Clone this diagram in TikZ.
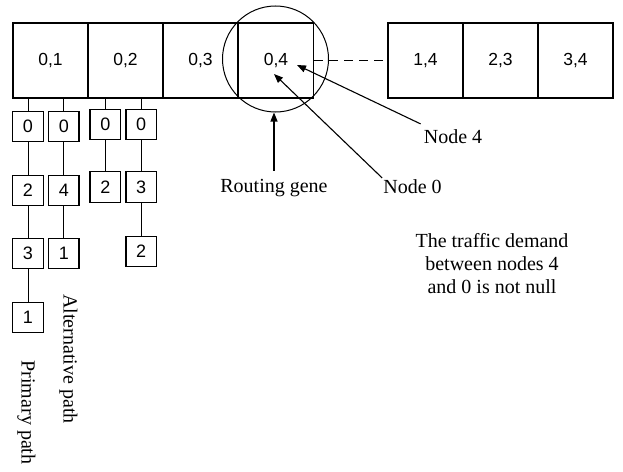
\documentclass[tikz,border=0pt]{standalone}
\usepackage{fontspec}
\setmainfont{Liberation Serif}
\setsansfont{Liberation Sans}
\usetikzlibrary{arrows.meta}
\begin{document}
\begin{tikzpicture}[x=1pt,y=-1pt,
  bigbox/.style={draw,line width=1.2pt,minimum width=75pt,minimum height=75pt,inner sep=0pt,
    font=\sffamily\fontsize{17.5}{20}\selectfont},
  smallbox/.style={draw,line width=1.2pt,minimum size=30.5pt,inner sep=0pt,
    font=\sffamily\fontsize{18}{20}\selectfont},
  lbl/.style={inner sep=0pt,font=\rmfamily\fontsize{20}{23}\selectfont},
  link/.style={line width=1pt},
  arr/.style={line width=1.1pt,-{Triangle[length=9pt,width=7pt]}}]
\useasboundingbox (0,0) rectangle (623,471);
% top genes
\node[bigbox] (b01) at (50.5,60.5) {0,1};
\node[bigbox] (b02) at (125.5,60.5) {0,2};
\node[bigbox] (b03) at (200.5,60.5) {0,3};
\node[bigbox] (b04) at (276,60.5) {0,4};
\node[bigbox] (b14) at (425.5,60.5) {1,4};
\node[bigbox] (b23) at (500.5,60.5) {2,3};
\node[bigbox] (b34) at (575.5,60.5) {3,4};
\draw[line width=1.2pt,dash pattern=on 9pt off 6pt] (b04.east) -- (b14.west);
% selection circle
\node[draw,circle,line width=1pt,minimum size=106pt,inner sep=0pt] (sel) at (275.5,59) {};
% path columns
\node[smallbox] (p1) at (28,126.5) {0};
\node[smallbox] (p2) at (28,190.5) {2};
\node[smallbox] (p3) at (28,253.5) {3};
\node[smallbox] (p4) at (28,317.5) {1};
\node[smallbox] (a1) at (63.8,126.5) {0};
\node[smallbox] (a2) at (63.8,190.5) {4};
\node[smallbox] (a3) at (63.8,253.5) {1};
\node[smallbox] (q1) at (105.3,124.5) {0};
\node[smallbox] (q2) at (105.3,187) {2};
\node[smallbox] (r1) at (141.2,124.5) {0};
\node[smallbox] (r2) at (141.2,187) {3};
\node[smallbox] (r3) at (141.2,251.5) {2};
\draw[link] (p1.north) -- (p1.north |- b01.south);
\draw[link] (a1.north) -- (a1.north |- b01.south);
\draw[link] (q1.north) -- (q1.north |- b02.south);
\draw[link] (r1.north) -- (r1.north |- b02.south);
\draw[link] (p1) -- (p2) -- (p3) -- (p4);
\draw[link] (a1) -- (a2) -- (a3);
\draw[link] (q1) -- (q2);
\draw[link] (r1) -- (r2) -- (r3);
% labels
\node[lbl,rotate=-90] (alt) at (68.5,359) {Alternative path};
\node[lbl,rotate=-90] (prim) at (26.4,412.5) {Primary path};
\node[lbl,anchor=base] (rg) at (274,192) {Routing gene};
\node[lbl,anchor=base] (n0) at (412.5,193) {Node 0};
\node[lbl,anchor=base] (n4) at (453,143) {Node 4};
\node[lbl,align=center,anchor=north] (td) at (492,233) {The traffic demand\\between nodes 4\\and 0 is not null};
\coordinate (t0) at (274,74);
\coordinate (t4) at (297,65);
\draw[arr] ([yshift=8pt]rg.north) -- (rg.north |- sel.south);
\draw[arr] ([xshift=-1pt,yshift=1pt]n0.north west) -- (t0);
\draw[arr] ([xshift=-3pt,yshift=5pt]n4.north west) -- (t4);
\end{tikzpicture}
\end{document}
